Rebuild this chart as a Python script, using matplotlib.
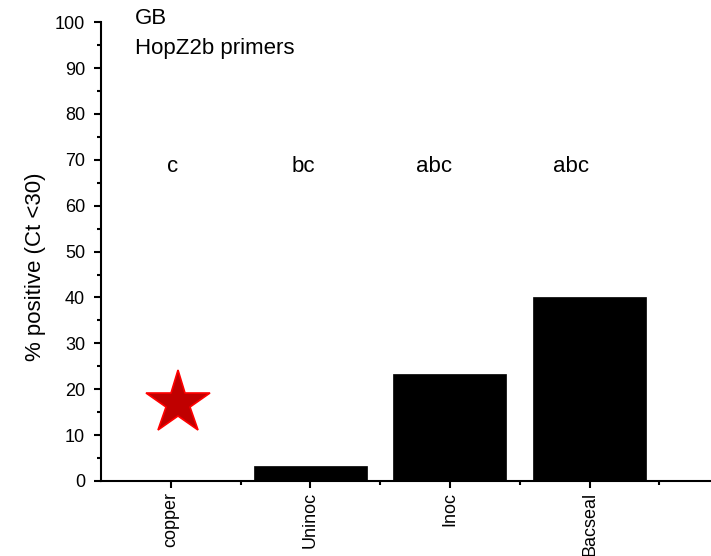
import matplotlib
matplotlib.use('Agg')
import matplotlib.pyplot as plt
from matplotlib.ticker import MultipleLocator, FixedLocator

plt.rcParams['font.family'] = ['Liberation Sans', 'DejaVu Sans']

# Data
categories = ['copper', 'Uninoc', 'Inoc', 'Bacseal']
percent_positive = [0, 3.33, 23.33, 40]
group_letters = ['c', 'bc', 'abc', 'abc']
letter_offsets = [0.01, -0.05, -0.115, -0.13]   # letters sit a bit left of bar centres
star_value = 17

fig = plt.figure(figsize=(7.11, 5.56), dpi=100)
ax = fig.add_axes([0.142, 0.135, 0.858, 0.825])

x = list(range(1, len(categories) + 1))

# Bars (copper is 0, so nothing drawn)
ax.bar(x, percent_positive, width=0.81, color='black', edgecolor='black', linewidth=0.5)

# Red star over copper
ax.plot([x[0] + 0.05], [star_value], marker='*', markersize=48,
        markerfacecolor='#c00000', markeredgecolor='#ff0000', markeredgewidth=1.2,
        linestyle='none', zorder=5)

# Significance letters
for xi, lab, off in zip(x, group_letters, letter_offsets):
    ax.text(xi + off, 68.5, lab, ha='center', va='center', fontsize=16)

# Panel labels
ax.text(0.056, 1.03, 'GB', transform=ax.transAxes, ha='left', va='top', fontsize=16)
ax.text(0.056, 0.966, 'HopZ2b primers', transform=ax.transAxes, ha='left', va='top', fontsize=16)

# Axes styling
ax.set_xlim(0.5, 4.87)
ax.set_ylim(0, 100)
ax.set_xticks(x)
ax.set_xticklabels(categories, rotation=90, fontsize=13)
ax.xaxis.set_minor_locator(FixedLocator([1.5, 2.5, 3.5, 4.5]))
ax.yaxis.set_major_locator(MultipleLocator(10))
ax.yaxis.set_minor_locator(MultipleLocator(5))

ax.spines['top'].set_visible(False)
ax.spines['right'].set_visible(False)
for s in ['left', 'bottom']:
    ax.spines[s].set_linewidth(1.5)

ax.tick_params(which='major', direction='out', length=5, width=1.5, pad=3)
ax.tick_params(which='minor', direction='out', length=3, width=1.5)
ax.tick_params(axis='y', which='major', labelsize=13, pad=6.5)

ax.set_ylabel('% positive (Ct <30)', fontsize=16)
ax.yaxis.set_label_coords(-0.09, 0.466)

fig.savefig('out.png', dpi=100)
